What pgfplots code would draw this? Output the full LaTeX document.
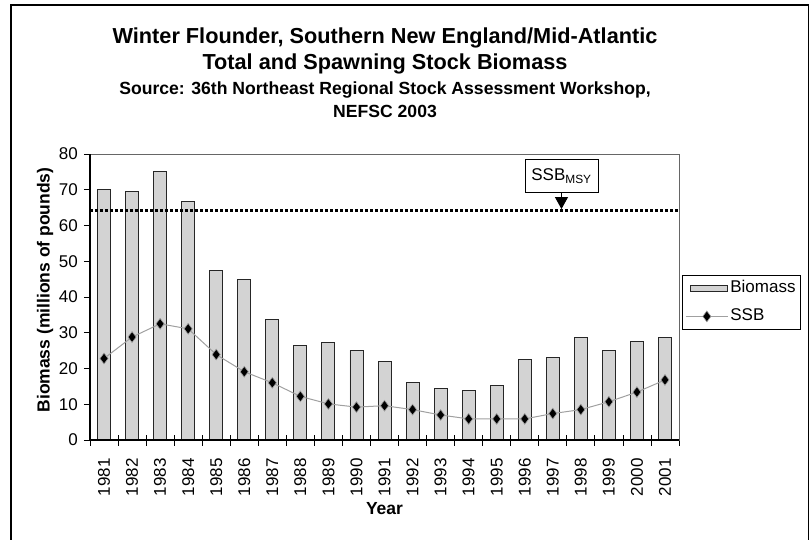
\documentclass[border=0pt]{standalone}
\usepackage{pgfplots}
\pgfplotsset{compat=1.18}
\usepackage{fontspec}
\setmainfont{Liberation Sans}
\usetikzlibrary{arrows.meta}
\definecolor{barGray}{RGB}{211,211,211}
\definecolor{lineGray}{RGB}{160,160,160}

\pgfplotstableread{
idx year biomass ssb
0  1981 70.0 22.8
1  1982 69.5 28.8
2  1983 75.2 32.5
3  1984 66.6 31.1
4  1985 47.5 23.9
5  1986 44.9 19.1
6  1987 33.7 16.0
7  1988 26.4 12.2
8  1989 27.3 10.1
9  1990 25.1 9.2
10 1991 22.0 9.6
11 1992 16.0 8.5
12 1993 14.5 7.0
13 1994 13.8 5.9
14 1995 15.3 5.9
15 1996 22.4 5.9
16 1997 23.2 7.4
17 1998 28.8 8.5
18 1999 25.1 10.7
19 2000 27.6 13.4
20 2001 28.8 16.8
}\datatable

\begin{document}
\begin{tikzpicture}[x=1pt,y=1pt]
\useasboundingbox (0,0) rectangle (811,539);
\draw[line width=1.3pt] (11,-20) -- (11,534) -- (808.5,534) -- (808.5,-20);

\node[anchor=base, font=\fontsize{21.7}{24}\selectfont\bfseries] at (385,495.7) {Winter Flounder, Southern New England/Mid-Atlantic};
\node[anchor=base, font=\fontsize{21.7}{24}\selectfont\bfseries] at (385,469) {Total and Spawning Stock Biomass};
\node[anchor=base, font=\fontsize{17.6}{20}\selectfont\bfseries] at (385,444.7) {Source: 36th Northeast Regional Stock Assessment Workshop,};
\node[anchor=base, font=\fontsize{17.6}{20}\selectfont\bfseries] at (385,421.5) {NEFSC 2003};

\begin{axis}[
  at={(90pt,99pt)}, anchor=south west,
  scale only axis, width=589pt, height=286pt,
  xmin=-0.5, xmax=20.5, ymin=0, ymax=80,
  clip=false,
  axis line style={draw=gray!80!black, line width=0.8pt},
  tick pos=left,
  xtick={0,...,20},
  xticklabels={1981,1982,1983,1984,1985,1986,1987,1988,1989,1990,1991,1992,1993,1994,1995,1996,1997,1998,1999,2000,2001},
  major x tick style={draw=none},
  minor xtick={-0.5,0.5,...,20.5},
  minor x tick style={black, line width=0.8pt},
  xtick align=center,
  minor tick length=11pt,
  ytick={0,10,...,80},
  ytick align=outside,
  y tick style={black, line width=0.8pt},
  major tick length=6pt,
  tick label style={font=\fontsize{17}{20}\selectfont},
  /pgf/number format/assume math mode=true,
  xticklabel style={rotate=90, anchor=east, inner sep=0pt},
  xticklabel shift=15pt,
  yticklabel style={inner sep=0pt},
  yticklabel shift=6pt,
  xlabel={Year},
  xlabel style={at={(axis description cs:0.5,-0.262)}, anchor=base, font=\fontsize{17.5}{20}\selectfont\bfseries},
  ylabel={Biomass (millions of pounds)},
  ylabel style={at={(axis description cs:-0.0764,0.5245)}, anchor=center, font=\fontsize{17.5}{20}\selectfont\bfseries},
  legend style={at={(rel axis cs:1.005,0.577)}, anchor=north west, draw=black, line width=0.8pt,
    inner xsep=3pt, inner ysep=3pt, row sep=8pt,
    font=\fontsize{17}{20}\selectfont,
    nodes={inner sep=2pt, text height=12.5pt, text depth=3.5pt}},
  legend cell align=left,
]
\addplot[ybar, bar width=13pt, fill=barGray, draw=black!85, line width=0.9pt,
  legend image code/.code={\draw[fill=barGray, draw=black!85, line width=0.9pt] (5pt,-3pt) rectangle (42pt,3pt);}]
  table[x=idx, y=biomass] {\datatable};
\addlegendentry{Biomass}
\addplot[lineGray, line width=1pt, mark=diamond*, mark size=5.4pt,
  mark options={fill=black, draw=lineGray, line width=0.6pt},
  legend image code/.code={\draw[lineGray, line width=1pt] (0pt,0pt) -- (42pt,0pt);
    \draw[lineGray, line width=0.6pt] plot[mark=diamond*, mark size=5.4pt, mark options={fill=black, draw=lineGray}] coordinates {(21pt,0pt)};}]
  table[x=idx, y=ssb] {\datatable};
\addlegendentry{SSB}
\addplot[black, line width=3pt, dash pattern=on 3pt off 2pt, forget plot] coordinates {(-0.5,64.2) (20.5,64.2)};
\draw[black, line width=1.2pt] (rel axis cs:0,1) -- (rel axis cs:0,0) -- (rel axis cs:1,0);
\node[draw=black, line width=0.8pt, fill=white, minimum width=73pt, minimum height=33.5pt, inner sep=0pt,
  font=\fontsize{17}{20}\selectfont] at (axis cs:16.31,73.85) {SSB\textsubscript{MSY}};
\draw[line width=1pt, -{Triangle[width=13pt,length=12pt]}] (axis cs:16.31,69.2) -- (axis cs:16.31,64.6);
\end{axis}
\end{tikzpicture}
\end{document}
